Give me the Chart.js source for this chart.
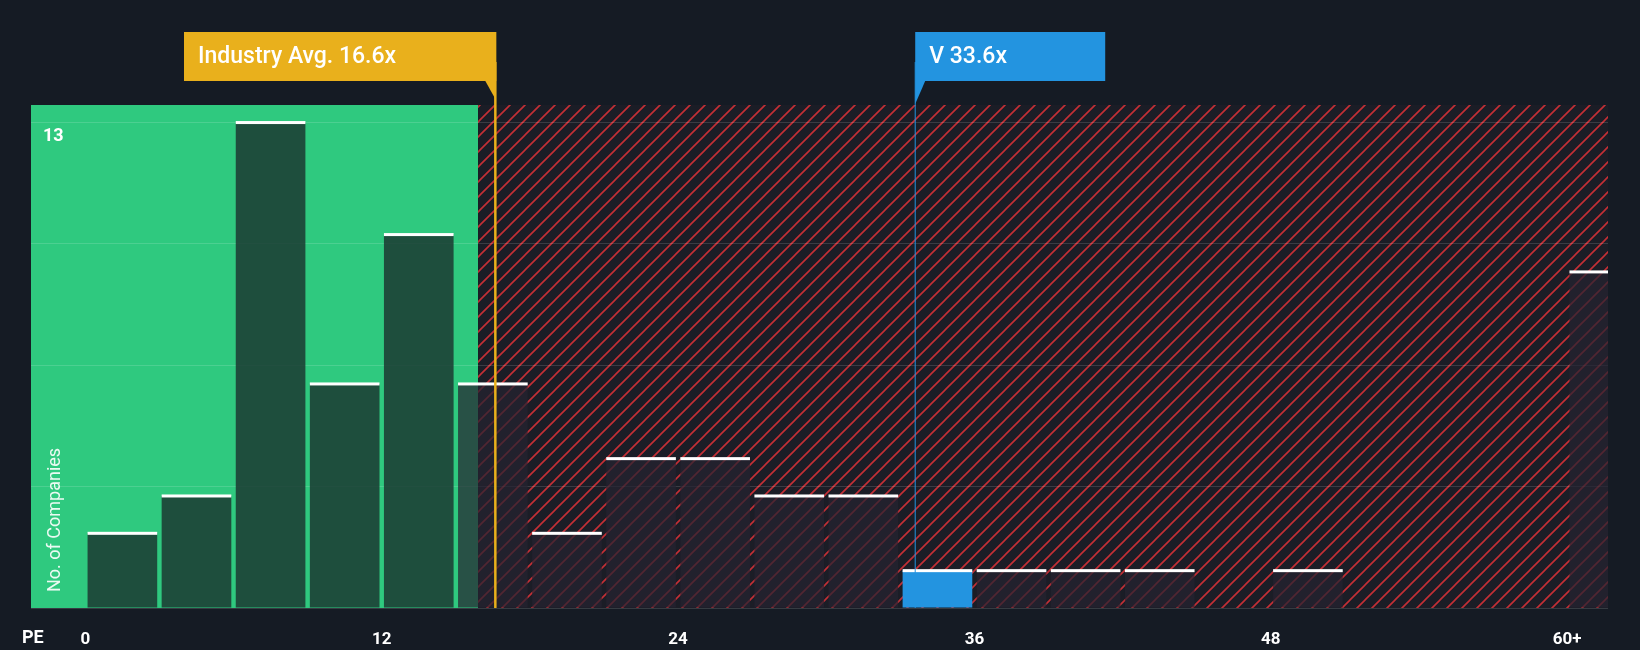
<!DOCTYPE html>
<html><head><meta charset="utf-8">
<script src="https://cdn.jsdelivr.net/npm/chart.js@4"></script>
<style>html,body{margin:0;background:#151b24}#wrap{width:1640px;height:650px}</style>
</head><body><div id="wrap"><canvas id="c"></canvas></div>
<script>
// bin centres (PE) and company counts
var binCentres = [1.5,4.5,7.5,10.5,13.5,16.5,19.5,22.5,25.5,28.5,31.5,34.5,37.5,40.5,43.5,46.5,49.5,52.5,55.5,58.5,61.5];
var counts     = [2,3,13,6,10,6,2,4,4,3,3,1,1,1,1,0,1,0,0,0,9];
var xTicks = [0,12,24,36,48,60];
var industryAvg = 16.6, industryLabel = 'Industry Avg. 16.6x';
var company = 33.6, companyLabel = 'V 33.6x';
var fairEdge = 15.9;
var companyBin = 34.5;

var font = 'Roboto';

function hatch() {
  var p = document.createElement('canvas'); p.width = 15; p.height = 15;
  var g = p.getContext('2d');
  g.strokeStyle = 'rgba(215,50,55,0.9)'; g.lineWidth = 1.6;
  g.beginPath(); g.moveTo(0,15); g.lineTo(15,0); g.moveTo(-7.5,7.5); g.lineTo(7.5,-7.5); g.moveTo(7.5,22.5); g.lineTo(22.5,7.5); g.stroke();
  return g.createPattern(p, 'repeat');
}

var bgPlugin = {
  id: 'bg',
  beforeDraw: function(chart) {
    var c = chart.ctx, a = chart.chartArea, x = chart.scales.x;
    var e = x.getPixelForValue(fairEdge);
    c.save();
    c.fillStyle = '#2fc97f'; c.fillRect(a.left, a.top, e - a.left, a.bottom - a.top);
    c.fillStyle = '#1b1d26'; c.fillRect(e, a.top, a.right - e, a.bottom - a.top);
    c.fillStyle = hatch(); c.fillRect(e, a.top, a.right - e, a.bottom - a.top);
    c.restore();
  },
  afterDatasetsDraw: function(chart) {
    var c = chart.ctx, a = chart.chartArea, x = chart.scales.x;
    c.save();
    c.beginPath(); c.rect(a.left, 0, a.right - a.left, chart.height); c.clip();
    chart.getDatasetMeta(0).data.forEach(function(b, i) {
      if (!counts[i]) return;
      c.fillStyle = '#ffffff';
      c.fillRect(b.x - b.width/2, b.y - 1.5, b.width, 3);
    });
    c.restore();
    function marker(v, col, text, boxLeft, boxRight) {
      var px = x.getPixelForValue(v);
      c.save();
      c.fillStyle = col; c.strokeStyle = col; c.lineWidth = v === industryAvg ? 2.5 : 1;
      c.beginPath(); c.moveTo(px, 62); c.lineTo(px, a.bottom); c.stroke();
      c.fillRect(boxLeft, 32, boxRight - boxLeft, 49);
      c.beginPath();
      if (v === industryAvg) { c.moveTo(px - 10, 81); c.lineTo(px, 81); c.lineTo(px, 99); }
      else { c.moveTo(px, 81); c.lineTo(px + 10, 81); c.lineTo(px, 104); }
      c.fill();
      c.fillStyle = '#ffffff'; c.font = '500 23px ' + font; c.textBaseline = 'middle';
      c.fillText(text, boxLeft + 14, 57);
      c.restore();
    }
    var ia = x.getPixelForValue(industryAvg), cp = x.getPixelForValue(company);
    marker(industryAvg, '#e9b01c', industryLabel, 184, ia + 1);
    marker(company, '#2394e0', companyLabel, cp, cp + 190);
    c.save();
    c.fillStyle = '#ffffff'; c.font = 'bold 18px ' + font; c.textBaseline = 'middle';
    c.fillText('13', a.left + 12, chart.scales.y.getPixelForValue(13) + 14);
    c.fillText('PE', 22, 638);
    c.translate(a.left + 24, a.bottom - 16); c.rotate(-Math.PI/2);
    c.font = '18px ' + font; c.fillStyle = 'rgba(255,255,255,0.9)';
    c.fillText('No. of Companies', 0, 0);
    c.restore();
  }
};

new Chart(document.getElementById('c'), {
  type: 'bar',
  data: { datasets: [{
    data: binCentres.map(function(v, i) { return { x: v, y: counts[i] }; }),
    backgroundColor: function(ctx) {
      var v = binCentres[ctx.dataIndex];
      if (v === companyBin) return '#2394e0';
      if (v < fairEdge) return 'rgba(28,60,52,0.88)';
      return 'rgba(38,34,48,0.72)';
    },
    barPercentage: 0.94, categoryPercentage: 1
  }]},
  options: {
    responsive: true, maintainAspectRatio: false, animation: false,
    layout: { padding: { left: 31, right: 32, top: 105, bottom: 0 } },
    plugins: { legend: { display: false }, tooltip: { enabled: false } },
    scales: {
      x: {
        type: 'linear', min: -2.2, max: 61.65, offset: false,
        afterBuildTicks: function(s) { s.ticks = xTicks.map(function(v) { return { value: v }; }); },
        afterFit: function(s) { s.height = 42; },
        ticks: { color: '#ffffff', padding: 14, font: { family: font, size: 17, weight: 'bold' },
          callback: function(v) { return v === 60 ? '60+' : v; } },
        grid: { display: false }, border: { display: false }
      },
      y: {
        display: true, min: 0, max: 13.47,
        afterBuildTicks: function(s) { s.ticks = [0,3.25,6.5,9.75,13].map(function(v) { return { value: v }; }); },
        ticks: { display: false },
        grid: { color: 'rgba(255,255,255,0.14)', drawTicks: false }, border: { display: false }
      }
    }
  },
  plugins: [bgPlugin]
});
</script></body></html>
